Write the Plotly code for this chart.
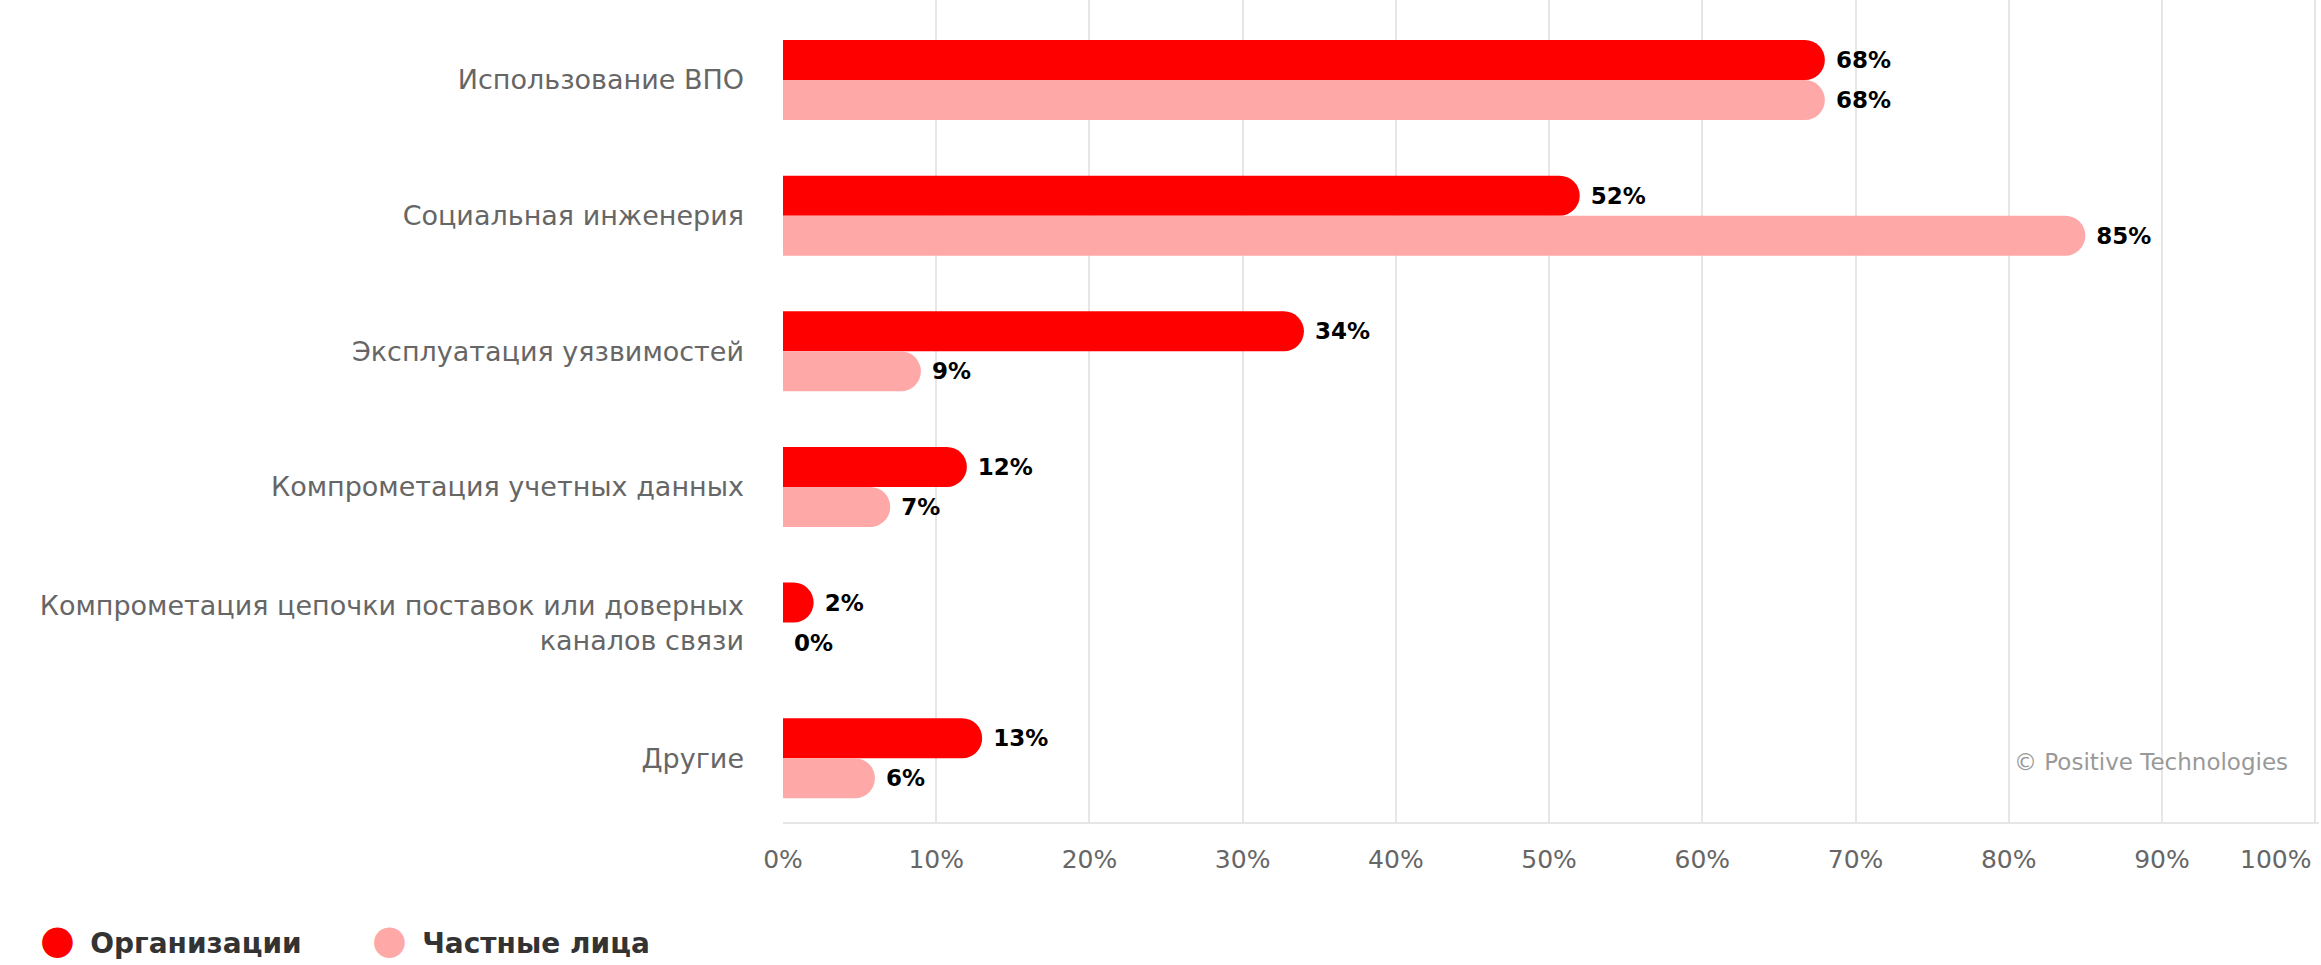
import plotly.graph_objects as go

categories = [
    "Использование ВПО",
    "Социальная инженерия",
    "Эксплуатация уязвимостей",
    "Компрометация учетных данных",
    "Компрометация цепочки поставок или доверных<br>каналов связи",
    "Другие",
]
organizations = [68, 52, 34, 12, 2, 13]
individuals = [68, 85, 9, 7, 0, 6]
series_names = ["Организации", "Частные лица"]
colors = ["#FF0000", "#FFA8A8"]
x_ticks = [0, 10, 20, 30, 40, 50, 60, 70, 80, 90, 100]
x_tick_labels = [f"{v}%" for v in x_ticks]

fig = go.Figure()
for name, vals, col in zip(series_names, [organizations, individuals], colors):
    fig.add_trace(go.Bar(
        y=categories, x=vals, orientation="h", name=name,
        marker=dict(color=col, cornerradius="50%", line=dict(width=0)),
        text=[f"\u00a0{v}%" for v in vals], textposition="outside",
        textfont=dict(family="DejaVu Sans", size=23, color="#000000", weight="bold"),
        cliponaxis=False, showlegend=False, hoverinfo="skip",
    ))
    fig.add_trace(go.Scatter(
        x=[None], y=[None], mode="markers",
        name=(f'<span style="color:{col}">●</span>'
              f'<span style="font-size:28px">\u00a0\u2009{name}</span>'),
        marker=dict(color="rgba(0,0,0,0)", size=1), showlegend=True,
    ))

# the last tick label sits flush with the right edge, as in the reference
tick_text_axis = x_tick_labels[:-1] + [""]

fig.update_layout(
    width=2321, height=965,
    margin=dict(l=783, r=2, t=0, b=143, autoexpand=False),
    paper_bgcolor="white", plot_bgcolor="white",
    barmode="group", bargap=0.41, bargroupgap=0,
    font=dict(family="DejaVu Sans", color="#666666"),
    xaxis=dict(
        range=[0, 100.25], tickvals=x_ticks, ticktext=tick_text_axis,
        showgrid=True, gridcolor="#E6E6E6", gridwidth=2,
        zeroline=False, showline=True, linecolor="#E6E6E6", linewidth=2,
        ticks="", ticklabelstandoff=14, automargin=False,
        tickfont=dict(family="DejaVu Sans", size=25, color="#666666"),
        fixedrange=True,
    ),
    yaxis=dict(
        range=[5.47, -0.59], showgrid=False, zeroline=False, showline=False,
        ticks="", ticklabelstandoff=38, automargin=False,
        tickfont=dict(family="DejaVu Sans", size=27, color="#666666"),
    ),
    legend=dict(
        orientation="h", xref="container", yref="container",
        x=0.0, y=0.029, xanchor="left", yanchor="middle",
        font=dict(family="DejaVu Sans", size=40, color="#333333", weight="bold"),
        entrywidth=287,
    ),
    annotations=[
        dict(
            text="© Positive Technologies", xref="paper", yref="paper",
            x=0.981, y=0.073, xanchor="right", yanchor="middle", showarrow=False,
            font=dict(family="DejaVu Sans", size=23, color="#999999"),
        ),
        dict(
            text=x_tick_labels[-1], xref="x", yref="paper",
            x=x_ticks[-1], y=0, yshift=-37, xanchor="right", yanchor="middle",
            xshift=-2, showarrow=False,
            font=dict(family="DejaVu Sans", size=25, color="#666666"),
        ),
    ],
)

fig.write_html("out.html")
